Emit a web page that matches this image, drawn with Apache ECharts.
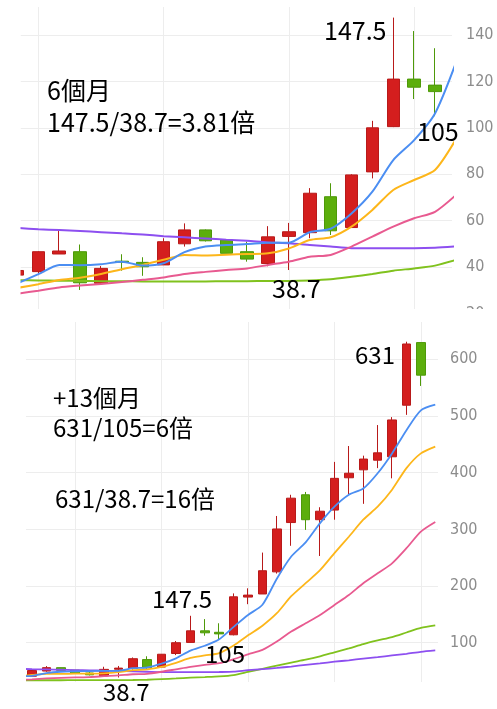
<!DOCTYPE html>
<html><head><meta charset="utf-8">
<script src="https://cdn.jsdelivr.net/npm/echarts@6/dist/echarts.min.js"></script>
<style>
html,body{margin:0;padding:0;background:#fff;width:497px;height:709px;overflow:hidden}
#c1{position:absolute;left:0;top:0;width:497px;height:309px}
#c2{position:absolute;left:0;top:309px;width:497px;height:400px}
</style></head><body>
<div id="c1"></div><div id="c2"></div>
<script>
// monthly candles (index 0..34), red = up, green = down
const opens  = [36.5, 38.0, 45.6, 46.6, 33.0, 42.5, 42.0, 40.9, 50.0, 56.0, 51.6, 46.6, 41.5, 53.2, 54.8, 70.3, 57.0, 81.0, 100.5, 121.0, 118.4,
                114, 180.5, 186, 225, 312, 361, 317, 334, 391, 405, 422, 428, 519, 629.5];
const closes = [38.5, 46.6, 46.9, 33.2, 39.4, 42.1, 40.1, 50.9, 56.0, 51.3, 45.9, 43.4, 53.0, 55.2, 71.8, 55.6, 79.7, 100.0, 121.0, 117.5, 115.6,
                181, 184, 227, 300.7, 355, 317, 332, 390, 399, 424, 435, 493, 627, 572];
const lows   = [36.0, 36.5, 45.6, 30.1, 33.0, 38.4, 36.2, 40.9, 48.8, 51.0, 45.9, 42.3, 40.3, 38.7, 52.4, 53.8, 56.8, 78.2, 100.3, 112.4, 105.0,
                113, 168, 186, 222, 271, 299, 253, 317, 362, 345, 408, 390, 502, 553];
const highs  = [39.0, 46.8, 55.7, 49.7, 40.4, 45.5, 44.2, 52.4, 58.8, 56.2, 51.6, 50.9, 57.6, 59.0, 74.0, 76.1, 80.0, 103.0, 147.5, 141.7, 134.3,
                187, 196, 259, 323.6, 361, 366, 339, 419, 447, 430, 484, 498, 631, 630];
// moving averages (index 0..35)
const maBlue   = [33.0, 36.9, 40.9, 40.8, 41.2, 42.3, 40.6, 41.6, 46.4, 48.8, 49.5, 49.9, 50.4, 50.5, 55.0, 56.5, 63.1, 72.5, 86.1, 94.7, 106.2,
                  128, 149, 167, 213, 252, 277, 311, 340, 361, 372, 399, 434, 475, 510, 520];
const maOrange = [31.0, 32.6, 34.4, 35.4, 37.0, 39.0, 40.9, 43.1, 45.2, 45.0, 45.3, 45.6, 45.9, 48.0, 51.6, 52.8, 57.4, 64.6, 73.2, 77.5, 81.8,
                  95, 113, 130, 152, 182, 205, 228, 258, 287, 317, 340, 370, 408, 434, 446];
const maPink   = [28.5, 29.8, 31.2, 32.0, 32.7, 33.5, 34.5, 35.5, 37.0, 37.9, 38.7, 39.4, 40.9, 42.3, 44.4, 45.2, 48.8, 53.1, 57.4, 61.0, 63.8,
                  71, 79.6, 87.3, 102, 119.6, 134.3, 149, 166.7, 184.3, 205, 222.6, 240, 266.7, 296, 313];
const maPurple = [56.8, 56.3, 55.9, 55.5, 55.0, 54.5, 54.0, 53.3, 52.8, 52.3, 51.8, 51.3, 50.6, 50.2, 49.5, 48.8, 48.1, 48.1, 48.1, 48.1, 48.3,
                  48.9, 51.5, 53.5, 55.5, 58, 61, 63.5, 66.5, 69, 72, 74.5, 77.5, 80.5, 84, 86.5];
const maGreen  = [34.3, 34.2, 34.1, 34.0, 33.9, 33.9, 33.8, 33.8, 33.8, 33.8, 33.9, 33.9, 34.0, 34.0, 34.2, 34.7, 35.8, 37.0, 38.4, 39.4, 40.6,
                  43, 48.5, 54, 59.5, 65, 70, 76, 83, 90, 97.5, 104, 110, 118, 126, 130.5];
// windows shown in each panel and month indices carrying vertical grid lines
const topWindow = [0, 20];
const bottomWindow = [7, 34];
const topGridMonths = [1, 7, 13, 19];
const bottomGridMonths = [10, 16, 22, 28, 34];

const RED = '#d41e1e', RED_B = '#b81a1a', GRN = '#5cae0c', GRN_B = '#4e9909';
const LABEL_FONT = '"Liberation Sans Narrow", "DejaVu Sans Condensed", sans-serif';
const NOTE_FONT = '"Noto Sans CJK TC", "Noto Sans", sans-serif';

function candles(win) {
  const out = [];
  for (let i = win[0]; i <= win[1]; i++) out.push([i, opens[i], closes[i], lows[i], highs[i]]);
  return out;
}
function maData(arr, win) {
  const out = [];
  for (let i = Math.max(0, win[0] - 1); i <= Math.min(arr.length - 1, win[1] + 1); i++) out.push([i, arr[i]]);
  return out;
}
function notes(list, size) {
  return list.map(n => ({
    type: 'text', x: n[1], y: n[2], z: 100, silent: true,
    style: { text: n[0], font: size + 'px ' + NOTE_FONT, fill: '#000', verticalAlign: 'middle' }
  }));
}
function build(p) {
  const lines = [
    [maGreen, '#80c21e'], [maPurple, '#8d4ff0'], [maPink, '#e85a90'], [maOrange, '#fdb61a'], [maBlue, '#4b8ef2']
  ].map(([arr, c]) => ({
    type: 'line', data: maData(arr, p.win), symbol: 'none', smooth: 0.25, z: 3,
    lineStyle: { color: c, width: p.lw }, animation: false, silent: true
  }));
  const g = notes(p.notes, p.fs);
  // plain white margin left of the plot, so a candle straddling the edge is cut like the screenshot
  g.push({ type: 'rect', z: 50, silent: true, shape: { x: 0, y: 0, width: p.left, height: 1000 }, style: { fill: '#fff' } });
  return {
    animation: false,
    grid: { left: p.left, top: p.top, width: p.width, height: p.height, outerBoundsMode: 'none', containLabel: false },
    xAxis: { type: 'value', min: p.xmin, max: p.xmax, show: false, splitLine: { show: false } },
    yAxis: {
      type: 'value', position: 'right', min: p.ymin, max: p.ymax,
      minInterval: p.step, maxInterval: p.step, splitNumber: 7,
      axisLine: { show: false }, axisTick: { show: false },
      axisLabel: { color: '#8c8c8c', fontSize: 16, fontFamily: LABEL_FONT, margin: p.margin,
                   showMinLabel: p.showMin, showMaxLabel: false },
      splitLine: { lineStyle: { color: '#ededed', width: 1 }, showMinLine: false, showMaxLine: false }
    },
    series: [{
      type: 'candlestick', data: candles(p.win), barWidth: p.bw, z: 2, silent: true,
      itemStyle: { color: RED, color0: GRN, borderColor: RED_B, borderColor0: GRN_B, borderWidth: 1 },
      markLine: {
        silent: true, z: 1, symbol: ['none', 'none'], label: { show: false },
        lineStyle: { color: '#ededed', type: 'solid', width: 1 }, animation: false,
        data: p.grid.map(v => ({ xAxis: v }))
      }
    }].concat(lines),
    graphic: g
  };
}

const c1 = echarts.init(document.getElementById('c1'), null, { renderer: 'canvas' });
c1.setOption(build({
  win: topWindow, grid: topGridMonths, left: 20.5, top: 7, width: 431.5, height: 306.4,
  xmin: 0.144, xmax: 20.814, ymin: 20, ymax: 152.07, step: 20, margin: 14, showMin: true,
  bw: 13, lw: 2, fs: 25,
  notes: [['6個月', 47, 90], ['147.5/38.7=3.81倍', 47, 122.5], ['147.5', 324, 30], ['105', 417, 131.5], ['38.7', 272, 288.5]]
}));
const c2 = echarts.init(document.getElementById('c2'), null, { renderer: 'canvas' });
c2.setOption(build({
  win: bottomWindow, grid: bottomGridMonths, left: 26, top: 13, width: 412, height: 360,
  xmin: 6.583, xmax: 35.19, ymin: 30.7, ymax: 665.8, step: 100, margin: 12, showMin: false,
  bw: 9, lw: 1.8, fs: 24,
  notes: [['+13個月', 53, 88.5], ['631/105=6倍', 53, 118.5], ['631/38.7=16倍', 55, 190], ['147.5', 152, 290],
          ['105', 205, 344.5], ['38.7', 103, 382.5], ['631', 355, 46]]
}));
</script>
</body></html>
